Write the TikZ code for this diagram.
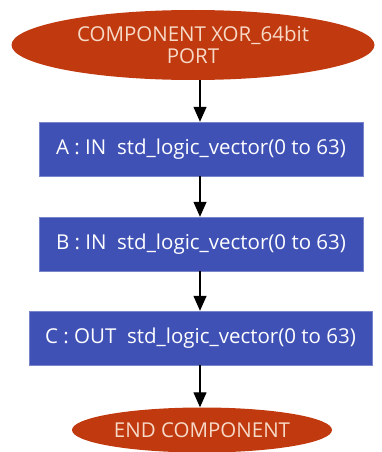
\documentclass[tikz,border=0pt]{standalone}
\usepackage{fontspec}
\setmainfont{Open Sans}
\usetikzlibrary{shapes.geometric,arrows.meta}
\definecolor{termred}{HTML}{C1390F}
\definecolor{termtext}{HTML}{F6D9C6}
\definecolor{portblue}{HTML}{3F51B5}
\tikzset{
  term/.style={ellipse, fill=termred, text=termtext, inner sep=0pt, align=center,
    font=\fontsize{20.5}{21.5}\selectfont},
  portbox/.style={rectangle, fill=portblue, draw=portblue!70!white, text=white, inner sep=0pt,
    minimum height=54pt, font=\fontsize{20.5}{24}\selectfont},
  flow/.style={-{Triangle[width=13pt,length=15pt]}, line width=1.3pt},
}
\begin{document}
\begin{tikzpicture}[x=1pt,y=-1pt]
		\useasboundingbox (0,0) rectangle (381,452);
		\node[term, minimum width=363pt, minimum height=70pt] (start) at (193,45) {COMPONENT XOR\_64bit\\PORT};
		\node[portbox, minimum width=324pt] (portA) at (201,149) {A : IN~~std\_logic\_vector(0 to 63)};
		\node[portbox, minimum width=324pt] (portB) at (201,244) {B : IN~~std\_logic\_vector(0 to 63)};
		\node[portbox, minimum width=343pt] (portC) at (200.5,338) {C : OUT~~std\_logic\_vector(0 to 63)};
		\node[term, minimum width=260pt, minimum height=45pt] (stop) at (202,430) {END COMPONENT};
		\draw[flow] (start.south -| 200,0) -- (portA.north -| 200,0);
		\draw[flow] (portA.south -| 200,0) -- (portB.north -| 200,0);
		\draw[flow] (portB.south -| 200,0) -- (portC.north -| 200,0);
		\draw[flow] (portC.south -| 200,0) -- (stop.north -| 200,0);
	\end{tikzpicture}
\end{document}
